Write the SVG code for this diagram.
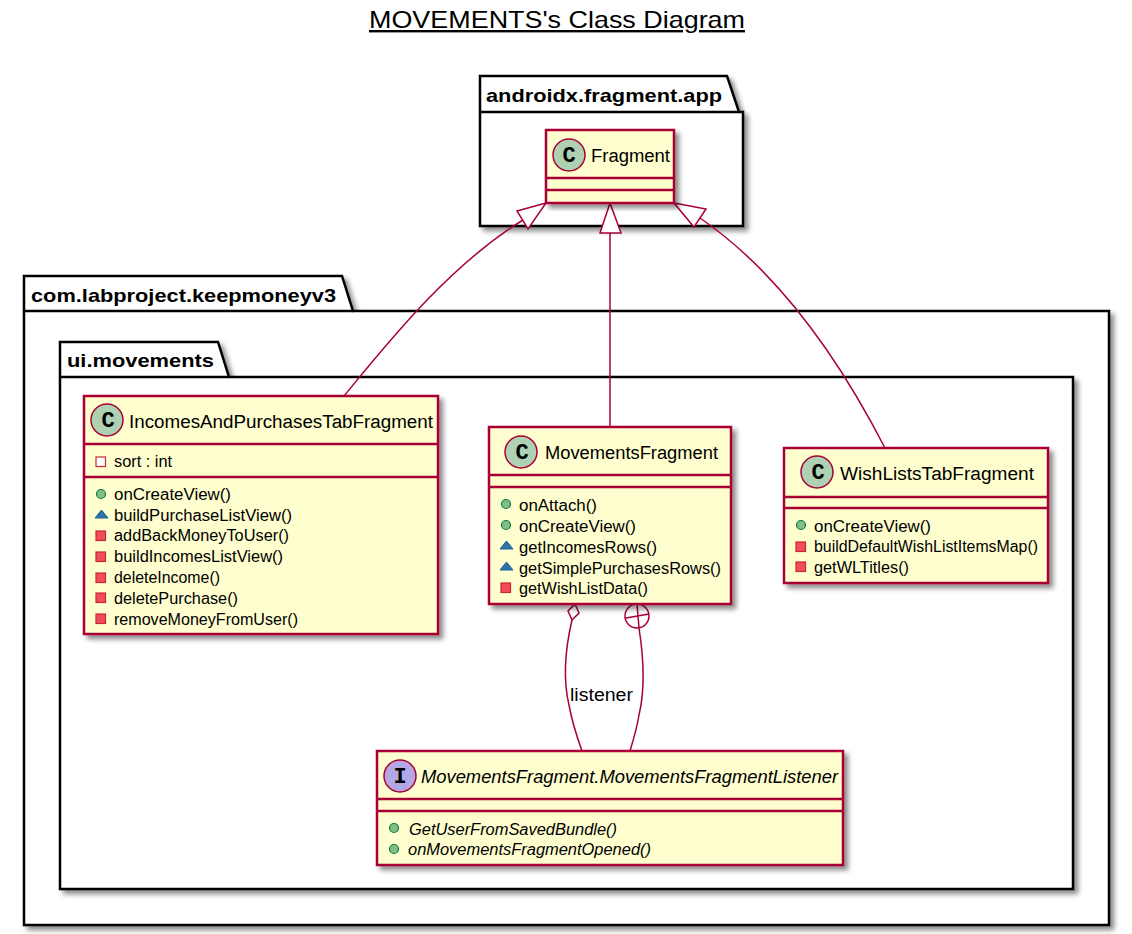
<svg xmlns="http://www.w3.org/2000/svg" width="1132" height="934" viewBox="0 0 1132 934">
<style>
text{font-family:"Liberation Sans",Arial,sans-serif;fill:#000}
.title{font-size:24px;text-decoration:underline}
.pk{font-size:19px;font-weight:bold}
.pb{fill:#fff;stroke:#000;stroke-width:2.5}
.box{fill:#fefece;stroke:#a80036;stroke-width:2.5}
.div{stroke:#a80036;stroke-width:2.5;fill:none}
.cn{font-size:18px}
.m{font-size:16px}
.i{font-style:italic}
.c{stroke:#a80036;stroke-width:1.5;fill:none}
.h{stroke:#a80036;stroke-width:1.5;fill:#fff}
.sp{fill:#84be84;stroke:#038048;stroke-width:1.2}
.st{fill:#1963a0;fill-opacity:.9;stroke:#1963a0}
.ss{fill:#f24d5c;stroke:#c82930;stroke-width:1.2}
.so{fill:#fff;stroke:#c82930;stroke-width:1.2}
.cc{fill:#add1b2;stroke:#a80036;stroke-width:1.5}
.ci{fill:#b4a7e5;stroke:#a80036;stroke-width:1.5}
.gl{font-size:22px;font-weight:bold;font-family:"Liberation Mono",monospace;text-anchor:middle}
</style>
<defs>
<filter id="sh" x="-10%" y="-10%" width="120%" height="120%"><feDropShadow dx="4" dy="4" stdDeviation="2.5" flood-color="#000" flood-opacity=".45"/></filter>
</defs>
<text class="title" x="557" y="28" text-anchor="middle" textLength="376" lengthAdjust="spacingAndGlyphs">MOVEMENTS's Class Diagram</text>
<g id="pkg-androidx">
<path class="pb" filter="url(#sh)" d="M480 112V76H727L739 112H743V226H480Z"/>
<path class="pb" d="M480 112H739"/>
<text class="pk" x="486" y="102" textLength="236" lengthAdjust="spacingAndGlyphs">androidx.fragment.app</text>
</g>
<g id="pkg-com">
<path class="pb" filter="url(#sh)" d="M24 311V276H342L353 311H1109V925H24Z"/>
<path class="pb" d="M24 311H353"/>
<text class="pk" x="31" y="302" textLength="305" lengthAdjust="spacingAndGlyphs">com.labproject.keepmoneyv3</text>
</g>
<g id="pkg-ui">
<path class="pb" filter="url(#sh)" d="M60 377V342H218L229 377H1073V889H60Z"/>
<path class="pb" d="M60 377H229"/>
<text class="pk" x="67" y="367" textLength="147" lengthAdjust="spacingAndGlyphs">ui.movements</text>
</g>
<g id="connectors">
<path class="c" d="M344 396C390 340 450 265 523 220"/><path class="h" d="M546 203L517 211L528 229Z"/>
<path class="c" d="M610 427V233"/><path class="h" d="M610 203L621 233H600Z"/>
<path class="c" d="M885 448C850 380 790 280 700 218"/><path class="h" d="M674 203L706 209L694 227Z"/>
<path class="c" d="M572 620C565 650 563 680 569 705C572 722 577 737 582 751"/><path class="h" d="M575 604L579 613L572 620L568 611Z"/>
<path class="c" d="M639 628C644 660 645 690 639 715C637 728 633 741 630 751"/>
<circle class="h" cx="637" cy="616" r="12"/><path class="c" d="M637 604L639 628M626 618L649 614"/>
<text class="cn" x="570" y="701" textLength="63" lengthAdjust="spacingAndGlyphs">listener</text>
</g>
<g id="Fragment">
<rect class="box" filter="url(#sh)" x="546" y="130" width="128" height="73"/>
<circle class="cc" cx="569" cy="155" r="16"/><text class="gl" x="569" y="162">C</text>
<text class="cn" x="591" y="162" textLength="79" lengthAdjust="spacingAndGlyphs">Fragment</text>
<path class="div" d="M546 178H674M546 190H674"/>
</g>
<g id="IncomesAndPurchasesTabFragment">
<rect class="box" filter="url(#sh)" x="84" y="396" width="354" height="238"/>
<circle class="cc" cx="107" cy="420" r="16"/><text class="gl" x="108" y="427">C</text>
<text class="cn" x="129" y="428" textLength="304" lengthAdjust="spacingAndGlyphs">IncomesAndPurchasesTabFragment</text>
<path class="div" d="M84 444H438M84 477H438"/>
<rect class="so" x="96" y="457" width="9.500" height="9.500"/><text class="m" x="114" y="467" textLength="58" lengthAdjust="spacingAndGlyphs">sort : int</text>
<circle class="sp" cx="101" cy="494" r="4.500"/><text class="m" x="114" y="500" textLength="117" lengthAdjust="spacingAndGlyphs">onCreateView()</text>
<path class="st" d="M95 518L101.500 510L108 518Z"/><text class="m" x="114" y="521" textLength="178" lengthAdjust="spacingAndGlyphs">buildPurchaseListView()</text>
<rect class="ss" x="96" y="531" width="9.500" height="9.500"/><text class="m" x="114" y="541" textLength="175" lengthAdjust="spacingAndGlyphs">addBackMoneyToUser()</text>
<rect class="ss" x="96" y="552" width="9.500" height="9.500"/><text class="m" x="114" y="562" textLength="169" lengthAdjust="spacingAndGlyphs">buildIncomesListView()</text>
<rect class="ss" x="96" y="573" width="9.500" height="9.500"/><text class="m" x="114" y="583" textLength="106" lengthAdjust="spacingAndGlyphs">deleteIncome()</text>
<rect class="ss" x="96" y="593" width="9.500" height="9.500"/><text class="m" x="114" y="604" textLength="124" lengthAdjust="spacingAndGlyphs">deletePurchase()</text>
<rect class="ss" x="96" y="614" width="9.500" height="9.500"/><text class="m" x="114" y="625" textLength="184" lengthAdjust="spacingAndGlyphs">removeMoneyFromUser()</text>
</g>
<g id="MovementsFragment">
<rect class="box" filter="url(#sh)" x="489" y="427" width="242" height="177"/>
<circle class="cc" cx="521" cy="452" r="16"/><text class="gl" x="522" y="459">C</text>
<text class="cn" x="545" y="459" textLength="173" lengthAdjust="spacingAndGlyphs">MovementsFragment</text>
<path class="div" d="M489 475H731M489 487H731"/>
<circle class="sp" cx="506" cy="504" r="4.500"/><text class="m" x="519" y="511" textLength="78" lengthAdjust="spacingAndGlyphs">onAttach()</text>
<circle class="sp" cx="506" cy="525" r="4.500"/><text class="m" x="519" y="532" textLength="117" lengthAdjust="spacingAndGlyphs">onCreateView()</text>
<path class="st" d="M500 549L506.500 541L513 549Z"/><text class="m" x="519" y="553" textLength="138" lengthAdjust="spacingAndGlyphs">getIncomesRows()</text>
<path class="st" d="M500 570L506.500 562L513 570Z"/><text class="m" x="519" y="574" textLength="202" lengthAdjust="spacingAndGlyphs">getSimplePurchasesRows()</text>
<rect class="ss" x="501" y="583" width="9.500" height="9.500"/><text class="m" x="519" y="594" textLength="129" lengthAdjust="spacingAndGlyphs">getWishListData()</text>
</g>
<g id="WishListsTabFragment">
<rect class="box" filter="url(#sh)" x="784" y="448" width="264" height="135"/>
<circle class="cc" cx="817" cy="472" r="16"/><text class="gl" x="818" y="479">C</text>
<text class="cn" x="840" y="480" textLength="194" lengthAdjust="spacingAndGlyphs">WishListsTabFragment</text>
<path class="div" d="M784 497H1048M784 508H1048"/>
<circle class="sp" cx="801" cy="525" r="4.500"/><text class="m" x="814" y="532" textLength="117" lengthAdjust="spacingAndGlyphs">onCreateView()</text>
<rect class="ss" x="796" y="542" width="9.500" height="9.500"/><text class="m" x="814" y="552" textLength="224" lengthAdjust="spacingAndGlyphs">buildDefaultWishListItemsMap()</text>
<rect class="ss" x="796" y="562" width="9.500" height="9.500"/><text class="m" x="814" y="573" textLength="95" lengthAdjust="spacingAndGlyphs">getWLTitles()</text>
</g>
<g id="MovementsFragmentListener">
<rect class="box" filter="url(#sh)" x="377" y="751" width="466" height="114"/>
<circle class="ci" cx="400" cy="776" r="16"/><text class="gl" x="400" y="783">I</text>
<text class="cn i" x="421" y="783" textLength="417" lengthAdjust="spacingAndGlyphs">MovementsFragment.MovementsFragmentListener</text>
<path class="div" d="M377 799H843M377 811H843"/>
<circle class="sp" cx="394" cy="828" r="4.500"/><text class="m i" x="409" y="835" textLength="208" lengthAdjust="spacingAndGlyphs">GetUserFromSavedBundle()</text>
<circle class="sp" cx="394" cy="849" r="4.500"/><text class="m i" x="408" y="855" textLength="243" lengthAdjust="spacingAndGlyphs">onMovementsFragmentOpened()</text>
</g>
</svg>
